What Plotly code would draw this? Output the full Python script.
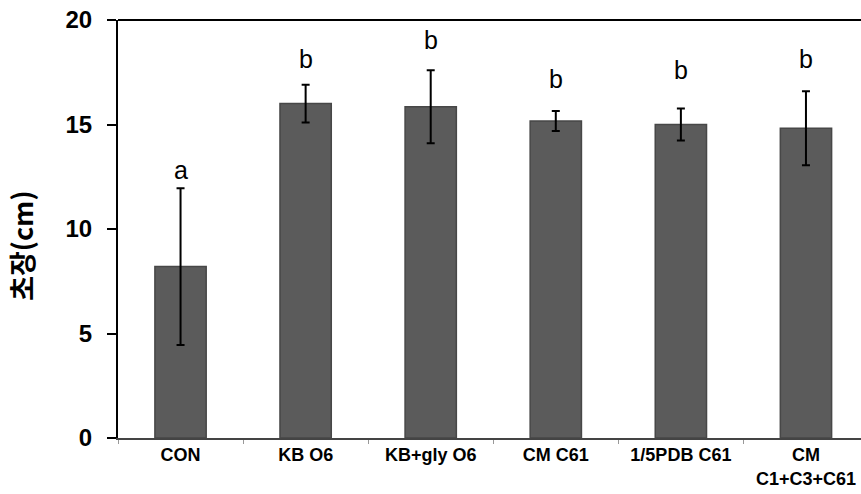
import plotly.graph_objects as go

categories = ["CON", "KB O6", "KB+gly O6", "CM C61", "1/5PDB C61", "CM<br>C1+C3+C61"]
means = [8.2, 16.0, 15.85, 15.17, 15.0, 14.82]
errors = [3.75, 0.9, 1.75, 0.48, 0.77, 1.77]
letters = ["a", "b", "b", "b", "b", "b"]
letter_y = [12.8, 18.15, 19.05, 17.2, 17.6, 18.15]
y_ticks = [0, 5, 10, 15, 20]

fig = go.Figure()
fig.add_trace(go.Bar(
    x=categories, y=means, width=0.41,
    marker=dict(color="#5b5b5b", line=dict(color="#474747", width=1.5)),
    error_y=dict(type="data", array=errors, visible=True, color="black", thickness=2, width=4),
    showlegend=False,
))

for c, ly, l in zip(categories, letter_y, letters):
    fig.add_annotation(x=c, y=ly, text=l, showarrow=False, yanchor="middle",
                       font=dict(family="Liberation Sans, Arial", size=25, color="black"))

fig.add_annotation(xref="paper", yref="paper", x=-0.129, y=0.46, text="<b>초장(cm)</b>",
                   textangle=-90, showarrow=False, xanchor="center", yanchor="middle",
                   font=dict(family="Noto Sans CJK KR", size=27, color="black"))

# top frame line
fig.add_shape(type="line", xref="paper", yref="paper", x0=0, x1=1, y0=1, y1=1,
              line=dict(color="black", width=2))

fig.update_layout(
    width=861, height=494,
    margin=dict(l=118, r=0, t=20, b=56),
    paper_bgcolor="white", plot_bgcolor="white",
    xaxis=dict(
        range=[-0.5, 5.44], showline=True, linecolor="#444444", linewidth=1.5,
        ticks="outside", tickson="boundaries", ticklen=4, tickcolor="#999999",
        tickfont=dict(family="Liberation Sans, Arial", size=18, color="black", weight="bold"),
        showgrid=False,
    ),
    yaxis=dict(
        range=[0, 20], tickvals=y_ticks, showline=True, linecolor="black", linewidth=2,
        ticks="outside", ticklen=9, tickwidth=2, tickcolor="black", ticklabelstandoff=10,
        tickfont=dict(family="Liberation Sans, Arial", size=24, color="black", weight="bold"),
        showgrid=False, zeroline=False,
    ),
)

fig.write_html("out.html", config={"displayModeBar": False},
               post_script="document.body.style.margin='0';")
